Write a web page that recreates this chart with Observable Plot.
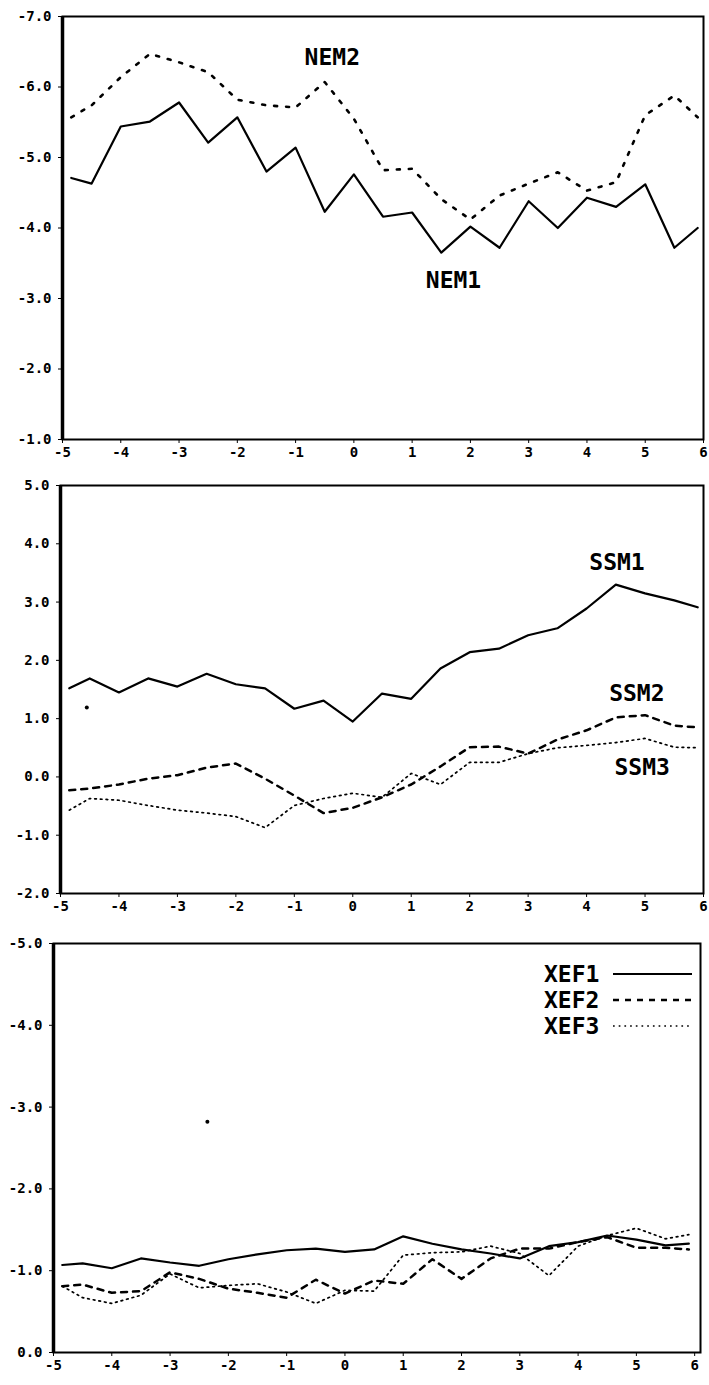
<!DOCTYPE html>
<html>
<head>
<meta charset="utf-8">
<script src="https://cdn.jsdelivr.net/npm/d3@7"></script>
<script src="https://cdn.jsdelivr.net/npm/@observablehq/plot@0.6"></script>
<style>
  html, body { margin: 0; padding: 0; background: #fff; }
  #wrap { position: relative; width: 709px; height: 1385px; overflow: hidden; }
  #wrap svg { display: block; }
</style>
</head>
<body>
<div id="wrap"></div>
<script>
// ---- data ----
const times = [-4.85, -4.5, -4, -3.5, -3, -2.5, -2, -1.5, -1, -0.5, 0, 0.5, 1, 1.5, 2, 2.5, 3, 3.5, 4, 4.5, 5, 5.5, 5.9];
const xTicks = [-5, -4, -3, -2, -1, 0, 1, 2, 3, 4, 5, 6];

// Panel 1
const nemTicks = [-7, -6, -5, -4, -3, -2, -1];
const nem1 = [-4.71, -4.63, -5.44, -5.51, -5.78, -5.21, -5.57, -4.80, -5.14, -4.23, -4.76, -4.16, -4.22, -3.65, -4.02, -3.72, -4.38, -4.00, -4.43, -4.30, -4.62, -3.72, -4.00];
const nem2 = [-5.57, -5.74, -6.14, -6.47, -6.35, -6.21, -5.82, -5.74, -5.71, -6.07, -5.55, -4.82, -4.84, -4.41, -4.12, -4.46, -4.63, -4.79, -4.53, -4.65, -5.60, -5.88, -5.57];
const nemLabels = [{text: "NEM2", x: -0.37, y: -6.42}, {text: "NEM1", x: 1.71, y: -3.26}];

// Panel 2
const ssmTicks = [5, 4, 3, 2, 1, 0, -1, -2];
const ssm1 = [1.52, 1.69, 1.45, 1.69, 1.55, 1.77, 1.59, 1.52, 1.17, 1.31, 0.95, 1.43, 1.34, 1.86, 2.14, 2.20, 2.43, 2.55, 2.89, 3.30, 3.15, 3.03, 2.91];
const ssm2 = [-0.23, -0.20, -0.13, -0.03, 0.03, 0.16, 0.23, -0.03, -0.32, -0.62, -0.53, -0.35, -0.13, 0.18, 0.51, 0.52, 0.40, 0.64, 0.80, 1.02, 1.06, 0.88, 0.85];
const ssm3 = [-0.57, -0.37, -0.40, -0.49, -0.57, -0.62, -0.68, -0.87, -0.49, -0.37, -0.28, -0.35, 0.06, -0.13, 0.25, 0.25, 0.40, 0.50, 0.54, 0.59, 0.66, 0.51, 0.50];
const ssmLabels = [{text: "SSM1", x: 4.52, y: 3.68}, {text: "SSM2", x: 4.86, y: 1.43}, {text: "SSM3", x: 4.95, y: 0.16}];
const ssmSpecks = [{x: -4.55, y: 1.19}];

// Panel 3
const xefTicks = [-5, -4, -3, -2, -1, 0];
const xef1 = [-1.07, -1.09, -1.03, -1.15, -1.10, -1.06, -1.14, -1.20, -1.25, -1.27, -1.23, -1.26, -1.42, -1.33, -1.26, -1.21, -1.15, -1.30, -1.35, -1.43, -1.38, -1.31, -1.33];
const xef2 = [-0.81, -0.83, -0.73, -0.75, -0.98, -0.90, -0.78, -0.73, -0.67, -0.89, -0.72, -0.88, -0.84, -1.14, -0.90, -1.15, -1.27, -1.27, -1.35, -1.41, -1.28, -1.28, -1.26];
const xef3 = [-0.81, -0.67, -0.60, -0.70, -0.96, -0.79, -0.82, -0.84, -0.74, -0.60, -0.76, -0.75, -1.19, -1.22, -1.23, -1.30, -1.21, -0.94, -1.30, -1.43, -1.52, -1.39, -1.44];
const xefNames = ["XEF1", "XEF2", "XEF3"];
const xefSpecks = [{x: -2.36, y: -2.82}];

// ---- helpers ----
const FONT = "'DejaVu Sans Mono', 'Liberation Mono', monospace";
const SOLID = {stroke: "#000", strokeWidth: 2.2};
const DASHED = {stroke: "#000", strokeWidth: 2.5, strokeDasharray: "6,6"};
const DOTTED_HEAVY = {stroke: "#000", strokeWidth: 2.6, strokeDasharray: "3,9"};
const DOTTED_FINE = {stroke: "#000", strokeWidth: 1.7, strokeDasharray: "1.7,4"};

const toRows = (vals) => times.map((t, i) => ({t, v: vals[i]}));
const series = (vals, style) => Plot.line(toRows(vals), {x: "t", y: "v", ...style});

function panel({height, marginLeft, marginRight, marginTop, marginBottom, xDomain, yDomain, yTicks, lines, labels, specks}) {
  return Plot.plot({
    width: 709, height, marginLeft, marginRight, marginTop, marginBottom,
    x: {domain: xDomain},
    y: {domain: yDomain},
    style: {fontFamily: FONT, fontSize: "14px", fontWeight: "bold", color: "#000", background: "#fff", overflow: "visible"},
    marks: [
      Plot.axisX({ticks: xTicks, tickFormat: d => String(d), tickSize: 4, tickPadding: 4, label: null, fontSize: 14}),
      Plot.axisY({ticks: yTicks, tickFormat: d => d.toFixed(1), tickSize: 4, tickPadding: 7, label: null, fontSize: 14}),
      Plot.frame({stroke: "#000", strokeWidth: 2}),
      Plot.ruleX([xDomain[0]], {stroke: "#000", strokeWidth: 3.5}),
      ...lines,
      ...(specks ? [Plot.dot(specks, {x: "x", y: "y", r: 2, fill: "#000"})] : []),
      ...(labels ? [Plot.text(labels, {x: "x", y: "y", text: "text", fontSize: 23, fontWeight: "bold", fontFamily: FONT, fill: "#000"})] : [])
    ]
  });
}

const wrap = document.getElementById("wrap");

wrap.append(panel({
  height: 465, marginLeft: 62, marginRight: 6, marginTop: 16, marginBottom: 26,
  xDomain: [-5, 6], yDomain: [-1, -7], yTicks: nemTicks,
  lines: [series(nem2, DOTTED_HEAVY), series(nem1, SOLID)],
  labels: nemLabels
}));

wrap.append(panel({
  height: 455, marginLeft: 60, marginRight: 6, marginTop: 20, marginBottom: 27,
  xDomain: [-5, 6], yDomain: [-2, 5], yTicks: ssmTicks,
  lines: [series(ssm3, DOTTED_FINE), series(ssm2, DASHED), series(ssm1, SOLID)],
  labels: ssmLabels, specks: ssmSpecks
}));

wrap.append(panel({
  height: 465, marginLeft: 53, marginRight: 9, marginTop: 23, marginBottom: 33,
  xDomain: [-5, 6.1], yDomain: [0, -5], yTicks: xefTicks,
  lines: [series(xef3, DOTTED_FINE), series(xef2, DASHED), series(xef1, SOLID)],
  specks: xefSpecks
}));

// ---- legend for the third panel ----
const styles = [SOLID, DASHED, DOTTED_FINE];
const leg = d3.create("svg").attr("width", 160).attr("height", 80)
  .style("position", "absolute").style("left", "540px").style("top", "958px");
xefNames.forEach((name, i) => {
  const g = leg.append("g").attr("transform", `translate(0, ${16 + i * 26})`);
  g.append("text").attr("x", 4).attr("y", 0).attr("dy", "0.36em")
    .attr("font-family", FONT).attr("font-size", 23).attr("font-weight", "bold").text(name);
  const s = styles[i];
  g.append("line").attr("x1", 73).attr("x2", 152).attr("y1", 0).attr("y2", 0)
    .attr("stroke", "#000").attr("stroke-width", s.strokeWidth)
    .attr("stroke-dasharray", s.strokeDasharray || null);
});
wrap.append(leg.node());
</script>
</body>
</html>
